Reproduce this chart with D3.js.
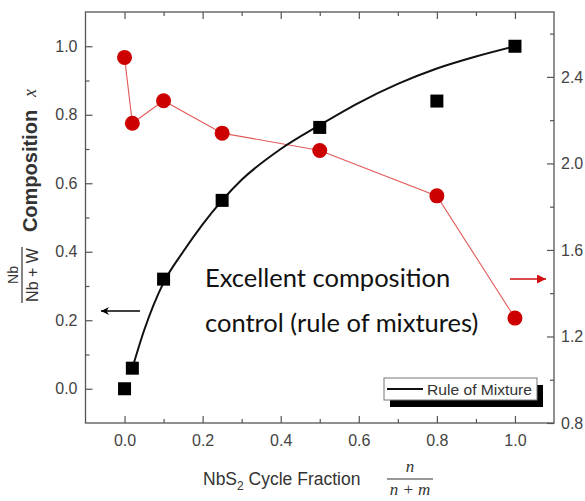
<!DOCTYPE html>
<html>
<head>
<meta charset="utf-8">
<script src="https://cdn.jsdelivr.net/npm/d3@7"></script>
<style>
  html, body { margin: 0; padding: 0; background: #fff; }
  svg { display: block; }
</style>
</head>
<body>
<svg id="chart" width="585" height="501"></svg>
<script>
// ---------------- data ----------------
const cycleFraction = [0.0, 0.02, 0.1, 0.25, 0.5, 0.8, 1.0];
const composition   = [0.0, 0.06, 0.32, 0.55, 0.763, 0.84, 1.0];
const rightSeries   = [2.49, 2.186, 2.29, 2.14, 2.06, 1.85, 1.285];

const mixX = [0.02, 0.05, 0.1, 0.15, 0.2, 0.25, 0.3, 0.4, 0.5, 0.6, 0.7, 0.8, 0.9, 1.0];
const mixY = [0.06, 0.17, 0.31, 0.40, 0.48, 0.55, 0.61, 0.70, 0.77, 0.835, 0.89, 0.935, 0.97, 1.0];

const xTicks = [0.0, 0.2, 0.4, 0.6, 0.8, 1.0];
const xMinor = [0.1, 0.3, 0.5, 0.7, 0.9];
const yLTicks = [0.0, 0.2, 0.4, 0.6, 0.8, 1.0];
const yLMinor = [0.1, 0.3, 0.5, 0.7, 0.9];
const yRTicks = [0.8, 1.2, 1.6, 2.0, 2.4];
const yRMinor = [1.0, 1.4, 1.8, 2.2, 2.6];

const legendLabel = "Rule of Mixture";
const noteLines = ["Excellent composition", "control (rule of mixtures)"];

// ---------------- layout ----------------
const L = 85.5, T = 12, W = 468.5, H = 411;
const svg = d3.select("#chart");

const x  = d3.scaleLinear().domain([-0.1, 1.1]).range([L, L + W]);
const yL = d3.scaleLinear().domain([-0.1, 1.1]).range([T + H, T]);
const yR = d3.scaleLinear().domain([0.8, 2.7]).range([T + H, T]);

const tickColor = "#555";
const labelColor = "#444";
const fam = "'Liberation Sans', Arial, sans-serif";

function styleAxis(g) {
  g.select(".domain").remove();
  g.selectAll(".tick line").attr("stroke", tickColor).attr("stroke-width", 1.2);
  g.selectAll(".tick text").attr("fill", labelColor).style("font-family", fam).style("font-size", "16px");
}

// major axes
svg.append("g").attr("transform", `translate(0,${T + H})`)
  .call(d3.axisBottom(x).tickValues(xTicks).tickSize(-7).tickPadding(12).tickFormat(d3.format(".1f")))
  .call(styleAxis);
svg.append("g").attr("transform", `translate(0,${T})`)
  .call(d3.axisTop(x).tickValues(xTicks).tickSize(-7).tickFormat(""))
  .call(styleAxis);
svg.append("g").attr("transform", `translate(${L},0)`)
  .call(d3.axisLeft(yL).tickValues(yLTicks).tickSize(-7).tickPadding(8).tickFormat(d3.format(".1f")))
  .call(styleAxis);
svg.append("g").attr("transform", `translate(${L + W},0)`)
  .call(d3.axisRight(yR).tickValues(yRTicks).tickSize(-7).tickPadding(7).tickFormat(d3.format(".1f")))
  .call(styleAxis);

// minor ticks
svg.append("g").attr("transform", `translate(0,${T + H})`)
  .call(d3.axisBottom(x).tickValues(xMinor).tickSize(-4).tickFormat("")).call(styleAxis);
svg.append("g").attr("transform", `translate(0,${T})`)
  .call(d3.axisTop(x).tickValues(xMinor).tickSize(-4).tickFormat("")).call(styleAxis);
svg.append("g").attr("transform", `translate(${L},0)`)
  .call(d3.axisLeft(yL).tickValues(yLMinor).tickSize(-4).tickFormat("")).call(styleAxis);
svg.append("g").attr("transform", `translate(${L + W},0)`)
  .call(d3.axisRight(yR).tickValues(yRMinor).tickSize(-4).tickFormat("")).call(styleAxis);

// frame
svg.append("rect").attr("x", L).attr("y", T).attr("width", W).attr("height", H)
  .attr("fill", "none").attr("stroke", tickColor).attr("stroke-width", 1.3);

// ---------------- red series ----------------
const redPts = cycleFraction.map((c, i) => [c, rightSeries[i]]);
svg.append("path").datum(redPts)
  .attr("d", d3.line().x(d => x(d[0])).y(d => yR(d[1])))
  .attr("fill", "none").attr("stroke", "#e35a5a").attr("stroke-width", 1.1);
svg.append("g").selectAll("circle").data(redPts).join("circle")
  .attr("cx", d => x(d[0])).attr("cy", d => yR(d[1])).attr("r", 7.5)
  .attr("fill", "#cc0000");

// ---------------- rule of mixture curve ----------------
const mixPts = mixX.map((v, i) => [v, mixY[i]]);
svg.append("path").datum(mixPts)
  .attr("d", d3.line().curve(d3.curveMonotoneX).x(d => x(d[0])).y(d => yL(d[1])))
  .attr("fill", "none").attr("stroke", "#111").attr("stroke-width", 2);

// squares
const sq = 13;
svg.append("g").selectAll("rect").data(cycleFraction.map((c, i) => [c, composition[i]])).join("rect")
  .attr("x", d => x(d[0]) - sq / 2).attr("y", d => yL(d[1]) - sq / 2)
  .attr("width", sq).attr("height", sq).attr("fill", "#000");

// ---------------- legend ----------------
const lg = svg.append("g").attr("transform", "translate(384,378)");
lg.append("rect").attr("x", 6).attr("y", 7).attr("width", 153).attr("height", 22).attr("fill", "#000");
lg.append("rect").attr("x", 0).attr("y", 0).attr("width", 153).attr("height", 22)
  .attr("fill", "#fff").attr("stroke", "#777").attr("stroke-width", 1);
lg.append("line").attr("x1", 3).attr("x2", 39).attr("y1", 11).attr("y2", 11)
  .attr("stroke", "#111").attr("stroke-width", 2);
lg.append("text").attr("x", 43).attr("y", 16.5).text(legendLabel)
  .style("font-family", fam).style("font-size", "15.5px").attr("fill", "#333")
  .attr("textLength", 105).attr("lengthAdjust", "spacingAndGlyphs");

// ---------------- annotation ----------------
svg.append("g").selectAll("text").data(noteLines).join("text")
  .attr("x", 205).attr("y", (d, i) => 287 + i * 45).text(d => d)
  .style("font-family", "Lato, 'Open Sans', sans-serif").style("font-size", "25.5px").attr("fill", "#111");

// arrows
const defs = svg.append("defs");
defs.append("marker").attr("id", "ahBlack").attr("viewBox", "0 0 10 10").attr("refX", 10).attr("refY", 5)
  .attr("markerWidth", 10).attr("markerHeight", 8).attr("markerUnits", "userSpaceOnUse").attr("orient", "auto")
  .append("path").attr("d", "M0,0 L10,5 L0,10 L3,5 Z").attr("fill", "#000");
defs.append("marker").attr("id", "ahRed").attr("viewBox", "0 0 10 10").attr("refX", 10).attr("refY", 5)
  .attr("markerWidth", 10).attr("markerHeight", 9).attr("markerUnits", "userSpaceOnUse").attr("orient", "auto")
  .append("path").attr("d", "M0,0 L10,5 L0,10 Z").attr("fill", "#d01010");
svg.append("line").attr("x1", 140).attr("x2", 101).attr("y1", 311).attr("y2", 311)
  .attr("stroke", "#000").attr("stroke-width", 1.5).attr("marker-end", "url(#ahBlack)");
svg.append("line").attr("x1", 510).attr("x2", 546).attr("y1", 279).attr("y2", 279)
  .attr("stroke", "#d01010").attr("stroke-width", 1.5).attr("marker-end", "url(#ahRed)");

// ---------------- axis titles ----------------
// bottom
const xt = svg.append("text").attr("x", 203).attr("y", 485)
  .style("font-family", fam).style("font-size", "17.5px").attr("fill", "#333");
xt.append("tspan").text("NbS");
xt.append("tspan").attr("dy", 5).style("font-size", "12px").text("2");
xt.append("tspan").attr("dy", -5).text(" Cycle Fraction");
const serif = "'Liberation Serif', 'DejaVu Serif', serif";
svg.append("text").attr("x", 410).attr("y", 472).attr("text-anchor", "middle")
  .style("font-family", serif).style("font-style", "italic").style("font-size", "17px").attr("fill", "#333").text("n");
svg.append("line").attr("x1", 387).attr("x2", 433).attr("y1", 479).attr("y2", 479)
  .attr("stroke", "#333").attr("stroke-width", 1.2);
svg.append("text").attr("x", 410).attr("y", 495).attr("text-anchor", "middle")
  .style("font-family", serif).style("font-style", "italic").style("font-size", "17px").attr("fill", "#333")
  .attr("xml:space", "preserve").text("n + m");

// left
svg.append("text").attr("transform", "translate(37,171) rotate(-90)").attr("text-anchor", "middle")
  .style("font-family", fam).style("font-size", "20px").style("font-weight", "bold").attr("fill", "#333")
  .text("Composition");
svg.append("text").attr("transform", "translate(36,93) rotate(-90)").attr("text-anchor", "middle")
  .style("font-family", serif).style("font-style", "italic").style("font-size", "18px").attr("fill", "#333")
  .text("x");
svg.append("text").attr("transform", "translate(18,275) rotate(-90)").attr("text-anchor", "middle")
  .style("font-family", fam).style("font-size", "14px").attr("fill", "#333").text("Nb");
svg.append("line").attr("x1", 22).attr("x2", 22).attr("y1", 247).attr("y2", 303)
  .attr("stroke", "#333").attr("stroke-width", 1.2);
svg.append("text").attr("transform", "translate(38,275) rotate(-90)").attr("text-anchor", "middle")
  .style("font-family", fam).style("font-size", "16px").attr("fill", "#333").text("Nb + W");
</script>
</body>
</html>
